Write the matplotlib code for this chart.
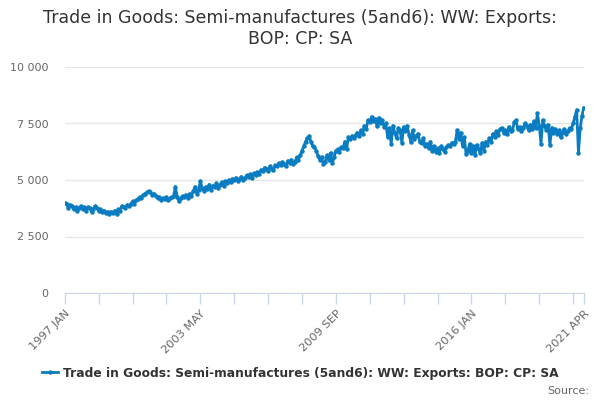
import matplotlib
matplotlib.use('Agg')
import matplotlib.pyplot as plt
from matplotlib.ticker import FuncFormatter

# monthly values, 1997 JAN .. 2021 APR
y1997 = [4000, 3950, 3750, 3900, 3850, 3700, 3800, 3650, 3750, 3850, 3700, 3800]
y1998 = [3650, 3800, 3750, 3600, 3700, 3850, 3750, 3650, 3700, 3600, 3650, 3550]
y1999 = [3600, 3500, 3600, 3550, 3650, 3500, 3700, 3650, 3850, 3800, 3750, 3900]
y2000 = [3850, 3950, 4050, 3950, 4100, 4150, 4250, 4200, 4350, 4400, 4450, 4500]
y2001 = [4450, 4350, 4400, 4300, 4200, 4250, 4100, 4200, 4150, 4250, 4100, 4200]
y2002 = [4250, 4300, 4700, 4250, 4050, 4200, 4300, 4250, 4350, 4200, 4400, 4300]
y2003 = [4500, 4700, 4400, 4550, 4950, 4650, 4500, 4700, 4600, 4800, 4550, 4750]
y2004 = [4700, 4850, 4650, 4800, 4900, 4750, 4950, 4850, 5000, 4900, 5050, 5000]
y2005 = [5100, 4950, 5050, 5150, 5000, 5100, 5200, 5150, 5250, 5100, 5300, 5200]
y2006 = [5350, 5250, 5450, 5400, 5550, 5500, 5400, 5600, 5500, 5450, 5650, 5600]
y2007 = [5750, 5650, 5800, 5700, 5600, 5850, 5750, 5900, 5700, 5800, 6000, 5900]
y2008 = [6100, 6300, 6500, 6700, 6850, 6950, 6700, 6500, 6450, 6300, 6050, 5900]
y2009 = [6000, 5700, 5800, 6100, 5900, 6200, 5750, 6000, 6300, 6350, 6250, 6450]
y2010 = [6400, 6700, 6350, 6900, 6800, 6950, 6850, 7000, 7100, 6950, 7200, 7050]
y2011 = [7400, 7250, 7650, 7550, 7800, 7600, 7700, 7400, 7750, 7500, 7650, 7350]
y2012 = [7500, 6900, 7300, 6600, 7400, 7100, 6850, 7300, 7200, 6650, 7350, 7150]
y2013 = [7400, 7000, 6700, 7200, 6800, 6950, 7050, 6700, 6650, 6850, 6500, 6600]
y2014 = [6400, 6700, 6300, 6500, 6250, 6400, 6200, 6500, 6350, 6250, 6450, 6550]
y2015 = [6500, 6650, 6600, 6700, 7200, 6800, 7100, 6500, 6900, 6150, 6300, 6600]
y2016 = [6200, 6500, 6100, 6550, 6350, 6200, 6650, 6300, 6700, 6550, 6850, 6700]
y2017 = [7050, 6900, 7150, 7000, 7250, 7300, 7100, 7200, 7050, 7350, 7150, 7200]
y2018 = [7550, 7650, 7250, 7350, 7150, 7300, 7500, 7400, 7200, 7450, 7250, 7600]
y2019 = [7300, 7950, 7400, 6600, 7650, 7400, 7200, 7450, 6550, 7300, 7100, 7250]
y2020 = [7050, 7200, 6900, 7100, 7250, 7050, 7150, 7300, 7250, 7500, 7800, 8100]
y2021 = [6200, 7300, 7850, 8200]

values = (y1997 + y1998 + y1999 + y2000 + y2001 + y2002 + y2003 + y2004 + y2005
          + y2006 + y2007 + y2008 + y2009 + y2010 + y2011 + y2012 + y2013 + y2014
          + y2015 + y2016 + y2017 + y2018 + y2019 + y2020 + y2021)

months = ['JAN', 'FEB', 'MAR', 'APR', 'MAY', 'JUN', 'JUL', 'AUG', 'SEP', 'OCT', 'NOV', 'DEC']
labels = [f'{1997 + i // 12} {months[i % 12]}' for i in range(len(values))]

title = 'Trade in Goods: Semi-manufactures (5and6): WW: Exports:\nBOP: CP: SA'
series_name = 'Trade in Goods: Semi-manufactures (5and6): WW: Exports: BOP: CP: SA'

blue = '#0a7cc1'

fig = plt.figure(figsize=(6, 4), dpi=100)
ax = fig.add_axes([0.108, 0.2675, 0.865, 0.565])

x = list(range(len(values)))
ax.plot(x, values, color=blue, lw=2, marker='o', ms=2.2, label=series_name)

ax.set_xlim(0, len(values) - 1)
ax.set_ylim(0, 10000)
ax.set_yticks([0, 2500, 5000, 7500, 10000])
ax.yaxis.set_major_formatter(FuncFormatter(lambda v, p: f'{int(v):,}'.replace(',', ' ')))
ax.grid(axis='y', color='#e6e6e6', lw=1)
ax.set_axisbelow(True)

minor = list(range(0, len(values), 19)) + [len(values) - 1]
ax.set_xticks(minor, minor=True)
ax.tick_params(axis='x', which='minor', length=8, color='#ccd6eb', width=1)
major = [0, 76, 152, 228, len(values) - 1]
ax.set_xticks(major)
ax.set_xticklabels([labels[i] for i in major], rotation=45, ha='right',
                   rotation_mode='anchor', fontsize=8.2, color='#666666')
ax.tick_params(axis='x', which='major', length=8, color='#ccd6eb', width=1, pad=3)
ax.tick_params(axis='y', length=0, labelsize=8, labelcolor='#666666', pad=12)

for s in ['top', 'right', 'left']:
    ax.spines[s].set_visible(False)
ax.spines['bottom'].set_color('#ccd6eb')

fig.text(0.5, 0.978, title, ha='center', va='top', fontsize=12.5, color='#333333',
         linespacing=1.2)

leg = fig.legend(loc='center', bbox_to_anchor=(0.5, 0.067), frameon=False,
                 prop={'weight': 'bold', 'size': 8.8}, handlelength=1.3,
                 handletextpad=0.4, labelcolor='#333333')
fig.text(0.982, 0.022, 'Source:', ha='right', va='center', fontsize=8, color='#666666')

fig.savefig('out.png', dpi=100)
